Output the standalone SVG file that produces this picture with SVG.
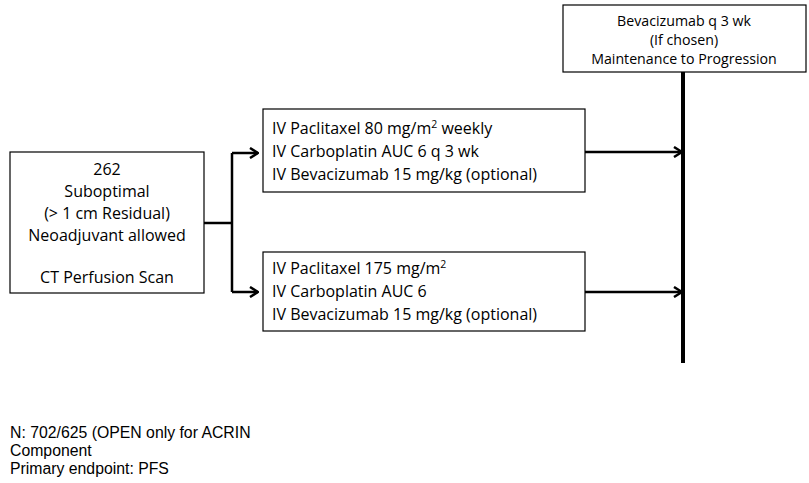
<svg xmlns="http://www.w3.org/2000/svg" width="809" height="483" viewBox="0 0 809 483">
<style>
.box{fill:#fff;stroke:#000;stroke-width:1.2}
.t{font-family:"Open Sans","Liberation Sans",sans-serif;font-size:16px;fill:#000}
.c{text-anchor:middle}
.s{font-family:"Open Sans","Liberation Sans",sans-serif;font-size:14.2px;fill:#000}
.n{font-family:"Liberation Sans",Arial,sans-serif;font-size:15.8px;fill:#000}
.ln{stroke:#000;stroke-width:2.5;fill:none}
</style>
<defs>
<marker id="ah" markerWidth="10" markerHeight="12" refX="9" refY="6" orient="auto" markerUnits="userSpaceOnUse">
<path d="M1,1 L9,6 L1,11" fill="none" stroke="#000" stroke-width="2.5"/>
</marker>
</defs>
<g id="connectors">
<path class="ln" d="M204,223 H232"/>
<path class="ln" d="M232,153 V292"/>
<path class="ln" d="M232,153 H258" marker-end="url(#ah)"/>
<path class="ln" d="M232,292 H258" marker-end="url(#ah)"/>
<path class="ln" d="M585,152 H682" marker-end="url(#ah)"/>
<path class="ln" d="M585,292 H682" marker-end="url(#ah)"/>
<path d="M683,72 V363" stroke="#000" stroke-width="4" fill="none"/>
</g>
<g id="start">
<rect class="box" x="10" y="152" width="194" height="141"/>
<text class="t c" x="107" y="175">262</text>
<text class="t c" x="107" y="197">Suboptimal</text>
<text class="t c" x="107" y="219">(&gt; 1 cm Residual)</text>
<text class="t c" x="107" y="241">Neoadjuvant allowed</text>
<text class="t c" x="107" y="283">CT Perfusion Scan</text>
</g>
<g id="arm1">
<rect class="box" x="263" y="109" width="322" height="83"/>
<text class="t" x="272" y="134">IV Paclitaxel 80 mg/m<tspan font-size="10.5px" dy="-6">2</tspan><tspan dy="6"> weekly</tspan></text>
<text class="t" x="272" y="157">IV Carboplatin AUC 6 q 3 wk</text>
<text class="t" x="272" y="180">IV Bevacizumab 15 mg/kg (optional)</text>
</g>
<g id="arm2">
<rect class="box" x="263" y="252" width="322" height="79"/>
<text class="t" x="272" y="274">IV Paclitaxel 175 mg/m<tspan font-size="10.5px" dy="-6">2</tspan></text>
<text class="t" x="272" y="297">IV Carboplatin AUC 6</text>
<text class="t" x="272" y="320">IV Bevacizumab 15 mg/kg (optional)</text>
</g>
<g id="maintenance">
<rect class="box" x="563" y="5" width="243" height="67"/>
<text class="s c" x="684" y="26">Bevacizumab q 3 wk</text>
<text class="s c" x="684" y="45">(If chosen)</text>
<text class="s c" x="684" y="64">Maintenance to Progression</text>
</g>
<g id="notes">
<text class="n" x="10" y="438">N: 702/625 (OPEN only for ACRIN</text>
<text class="n" x="10" y="456">Component</text>
<text class="n" x="10" y="474">Primary endpoint: PFS</text>
</g>
</svg>
